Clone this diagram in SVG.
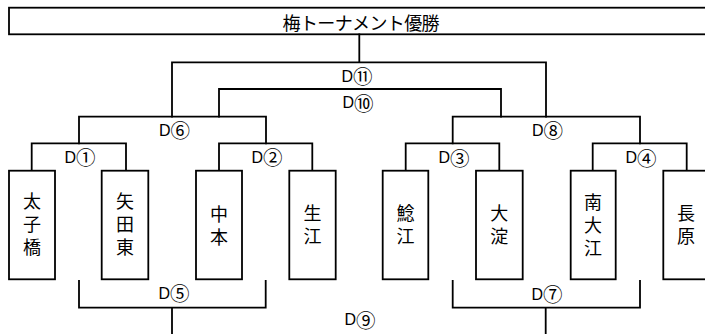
<svg xmlns="http://www.w3.org/2000/svg" width="705" height="334" viewBox="0 0 705 334">
<style>
.ln{fill:none;stroke:#000;stroke-width:1.8;stroke-linecap:square}
.bx{fill:#fff;stroke:#000;stroke-width:1.8}
.lbl{font-family:"Liberation Sans","Noto Sans CJK JP",sans-serif;font-size:16px;fill:#000;text-anchor:middle;dominant-baseline:central}
.c{font-family:"Noto Sans CJK JP",sans-serif;font-size:19.5px}
.nm{font-family:"Noto Sans CJK JP","Noto Sans CJK SC",sans-serif;font-size:18px;fill:#000;text-anchor:middle;dominant-baseline:central}
.v{writing-mode:vertical-rl;letter-spacing:5px}
</style>
<rect width="705" height="334" fill="#fff"/>
<g id="champion">
<rect class="bx" x="9" y="7.7" width="711" height="26.6"/>
<text class="nm" x="361" y="21.5" textLength="157" lengthAdjust="spacing">梅トーナメント優勝</text>
</g>
<g id="connectors">
<path class="ln" d="M359.3,34.3V62.3M172,116.7V62.3H546V116.7"/>
<path class="ln" d="M219,116.7V89H501V116.7"/>
<path class="ln" d="M79,143.3V116.7H266V143.3"/>
<path class="ln" d="M452.7,143.3V116.7H640V143.3"/>
<path class="ln" d="M31.7,170.7V143.3H126V170.7"/>
<path class="ln" d="M219,170.7V143.3H312.3V170.7"/>
<path class="ln" d="M405.7,170.7V143.3H499.3V170.7"/>
<path class="ln" d="M592.7,170.7V143.3H686.7V170.7"/>
<path class="ln" d="M79,281V307.7H265.7V281M172,307.7V334"/>
<path class="ln" d="M452.7,281V307.7H640V281M545.7,307.7V334"/>
</g>
<g id="labels">
<text class="lbl" x="357" y="76">D<tspan class="c" dy="-1">⑪</tspan></text>
<text class="lbl" x="358" y="102.5">D<tspan class="c" dy="-1">⑩</tspan></text>
<text class="lbl" x="174.5" y="130">D<tspan class="c" dy="-1">⑥</tspan></text>
<text class="lbl" x="547.5" y="130">D<tspan class="c" dy="-1">⑧</tspan></text>
<text class="lbl" x="80" y="157">D<tspan class="c" dy="-1">①</tspan></text>
<text class="lbl" x="267" y="157">D<tspan class="c" dy="-1">②</tspan></text>
<text class="lbl" x="454" y="157.5">D<tspan class="c" dy="-1">③</tspan></text>
<text class="lbl" x="641" y="157.5">D<tspan class="c" dy="-1">④</tspan></text>
<text class="lbl" x="174" y="293">D<tspan class="c" dy="-1">⑤</tspan></text>
<text class="lbl" x="547" y="294">D<tspan class="c" dy="-1">⑦</tspan></text>
<text class="lbl" x="360" y="319.5">D<tspan class="c" dy="-1">⑨</tspan></text>
</g>
<g id="team-taishibashi">
<rect class="bx" x="9" y="170.7" width="46" height="108.6"/>
<text class="nm v" x="32" y="227">太子橋</text>
</g>
<g id="team-yatahigashi">
<rect class="bx" x="101.7" y="170.7" width="46.6" height="108.6"/>
<text class="nm v" x="125" y="227">矢田東</text>
</g>
<g id="team-nakamoto">
<rect class="bx" x="196" y="170.7" width="46" height="108.6"/>
<text class="nm v" x="219" y="228">中本</text>
</g>
<g id="team-ikue">
<rect class="bx" x="289.3" y="170.7" width="46.4" height="108.6"/>
<text class="nm v" x="312.5" y="227.5">生江</text>
</g>
<g id="team-namazue">
<rect class="bx" x="382.7" y="170.7" width="45.6" height="108.6"/>
<text class="nm v" x="405.5" y="227">鯰江</text>
</g>
<g id="team-oyodo">
<rect class="bx" x="476" y="170.7" width="46.7" height="108.6"/>
<text class="nm v" x="499.3" y="227">大淀</text>
</g>
<g id="team-minamioe">
<rect class="bx" x="570.7" y="170.7" width="45" height="108.6"/>
<text class="nm v" x="593" y="227.5">南大江</text>
</g>
<g id="team-nagahara">
<rect class="bx" x="663.3" y="170.7" width="46" height="108.6"/>
<text class="nm v" x="686" y="227">長原</text>
</g>
</svg>
